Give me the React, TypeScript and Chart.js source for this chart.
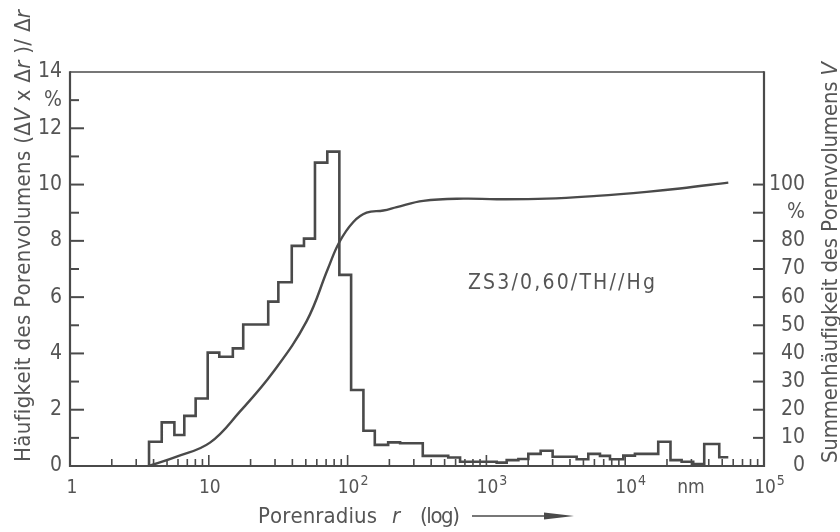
import React, { useEffect, useRef } from 'react';
import { Chart, registerables } from 'chart.js';

Chart.register(...registerables);

// ---------- data ----------
// histogram: class lower edges (nm) and frequency (%) held from each edge to the next
const HIST_START = 3.71;
const HIST_EDGES = [3.71, 4.58, 5.65, 6.66, 8.04, 9.82, 11.9, 14.9, 17.7, 26.8, 31.7, 39.6, 48.5, 58.2, 71.4, 87.2, 106, 130, 157, 196, 239, 348, 531, 646, 1186, 1400, 1700, 2005, 2460, 3000, 4470, 5420, 6580, 7770, 9690, 11750, 17300, 21200, 25500, 30900, 37100, 47600, 55300];
const HIST_VALUES = [0.86, 1.55, 1.10, 1.78, 2.40, 4.03, 3.88, 4.18, 5.03, 5.84, 6.53, 7.82, 8.08, 10.78, 11.17, 6.79, 2.70, 1.25, 0.75, 0.84, 0.81, 0.36, 0.30, 0.15, 0.12, 0.21, 0.25, 0.43, 0.54, 0.33, 0.24, 0.43, 0.36, 0.24, 0.37, 0.43, 0.86, 0.21, 0.15, 0.07, 0.78, 0.31, 0.31];

// cumulative curve (right axis, %)
const CUM_R = [3.7, 5.87, 10.2, 16.8, 29.1, 50.7, 72, 87.1, 110, 137, 181, 226, 351, 682, 1187, 2720, 6240, 14300, 24800, 55300];
const CUM_V = [0, 3.3, 8.3, 19.4, 33.4, 51.5, 70, 79.5, 86.7, 90, 90.8, 92, 94.2, 95, 94.8, 95, 96, 97.4, 98.6, 100.7];

// axes
const X_MIN = 1;
const X_MAX = 100000;
const X_LABEL_VALUES = [1, 10, 100, 1000, 10000, 29300, 100000];
const X_LABEL_BASE = ['1', '10', '10', '10', '10', 'nm', '10'];
const X_LABEL_EXP = ['', '', '2', '3', '4', '', '5'];
const X_MINOR_MULT = [1, 2, 3, 4, 5, 6, 7, 8, 9];
const X_DECADES = [1, 10, 100, 1000, 10000];

const Y_LEFT_TICKS = [0, 1, 2, 3, 4, 5, 6, 7, 8, 9, 10, 11, 12, 13, 14];
const Y_LEFT_LABELS = ['0', '', '2', '', '4', '', '6', '', '8', '', '10', '', '12', '%', '14'];
const Y_RIGHT_TICKS = [0, 10, 20, 30, 40, 50, 60, 70, 80, 90, 100];
const Y_RIGHT_LABELS = ['0', '10', '20', '30', '40', '50', '60', '70', '80', '%', '100'];

const ANNOTATION = 'ZS3/0,60/TH//Hg';

// ---------- styles ----------
const FAMILY = "'Liberation Sans Narrow', 'DejaVu Sans Condensed', 'Liberation Sans', sans-serif";
const INK = '#4a4a4a';
const TEXT = '#555555';

type Part = [string, boolean];

function drawFit(
  ctx: CanvasRenderingContext2D,
  parts: Part[],
  x: number,
  y: number,
  target: number,
  size: number,
  rotate: boolean
) {
  ctx.save();
  ctx.translate(x, y);
  if (rotate) ctx.rotate(-Math.PI / 2);
  ctx.textAlign = 'left';
  ctx.textBaseline = 'alphabetic';
  ctx.fillStyle = TEXT;
  const chars: { c: string; font: string; w: number }[] = [];
  for (const [t, it] of parts) {
    for (const c of Array.from(t)) {
      chars.push({ c, font: `${it ? 'italic ' : ''}${size}px ${FAMILY}`, w: 0 });
    }
  }
  let natural = 0;
  for (const ch of chars) {
    ctx.font = ch.font;
    ch.w = ctx.measureText(ch.c).width;
    natural += ch.w;
  }
  const sp = chars.length > 1 ? (target - natural) / (chars.length - 1) : 0;
  let cx = 0;
  for (const ch of chars) {
    ctx.font = ch.font;
    ctx.fillText(ch.c, cx, 0);
    cx += ch.w + sp;
  }
  ctx.restore();
}

function line(ctx: CanvasRenderingContext2D, x1: number, y1: number, x2: number, y2: number) {
  ctx.beginPath();
  ctx.moveTo(x1, y1);
  ctx.lineTo(x2, y2);
  ctx.stroke();
}

const decorPlugin = {
  id: 'decor',
  beforeDatasetsDraw(chart: any) {
    const ctx: CanvasRenderingContext2D = chart.ctx;
    const { left, right, top, bottom } = chart.chartArea;
    const xs = chart.scales.x;
    const ys = chart.scales.y;
    const y2 = chart.scales.y2;
    ctx.save();
    ctx.strokeStyle = INK;
    ctx.lineCap = 'butt';
    // frame
    ctx.lineWidth = 1.5;
    line(ctx, left, top, right, top);
    ctx.lineWidth = 2.2;
    line(ctx, left, top - 0.7, left, bottom + 1);
    line(ctx, right, top - 0.7, right, bottom + 1);
    line(ctx, left - 1, bottom, right + 1, bottom);
    // left ticks
    ctx.lineWidth = 2;
    Y_LEFT_TICKS.forEach((v) => {
      if (v >= 14) return;
      const py = ys.getPixelForValue(v);
      const len = v % 2 === 0 ? 14 : 9;
      line(ctx, left, py, left + len, py);
    });
    // right ticks
    Y_RIGHT_TICKS.forEach((v) => {
      const py = y2.getPixelForValue(v);
      line(ctx, right - 11, py, right, py);
    });
    // x ticks
    ctx.lineWidth = 1.6;
    X_DECADES.forEach((d) => {
      X_MINOR_MULT.forEach((k) => {
        const v = d * k;
        if (v <= X_MIN) return;
        const px = xs.getPixelForValue(v);
        const len = k === 1 ? 11 : 7;
        line(ctx, px, bottom, px, bottom - len);
      });
    });
    ctx.restore();
  },
  afterDraw(chart: any) {
    const ctx: CanvasRenderingContext2D = chart.ctx;
    const xs = chart.scales.x;
    ctx.save();
    ctx.fillStyle = TEXT;
    // x tick labels
    X_LABEL_VALUES.forEach((v, i) => {
      const px = xs.getPixelForValue(v);
      ctx.font = `19px ${FAMILY}`;
      ctx.textBaseline = 'alphabetic';
      ctx.textAlign = 'center';
      const base = X_LABEL_BASE[i];
      const w = ctx.measureText(base).width;
      ctx.fillText(base, px + (base === '1' ? 2 : 1), 493);
      if (X_LABEL_EXP[i]) {
        ctx.font = `14px ${FAMILY}`;
        ctx.textAlign = 'left';
        ctx.fillText(X_LABEL_EXP[i], px + 1 + w / 2 + 1, 485);
      }
    });
    ctx.restore();

    // axis titles
    drawFit(
      ctx,
      [
        ['Häufigkeit des Porenvolumens (Δ', false],
        ['V', true],
        [' x Δ', false],
        ['r', true],
        [' )/ Δ', false],
        ['r', true],
      ],
      30,
      462,
      452,
      22,
      true
    );
    drawFit(
      ctx,
      [
        ['Summenhäufigkeit des Porenvolumens ', false],
        ['V', true],
      ],
      837,
      463,
      401,
      22,
      true
    );
    drawFit(ctx, [['Porenradius', false]], 258, 523, 119, 22, false);
    drawFit(ctx, [['r', true]], 392, 523, 8, 22, false);
    drawFit(ctx, [['(log)', false]], 420, 523, 40, 22, false);
    // arrow
    ctx.save();
    ctx.strokeStyle = INK;
    ctx.fillStyle = INK;
    ctx.lineWidth = 1.6;
    line(ctx, 472, 516, 550, 516);
    ctx.beginPath();
    ctx.moveTo(544, 512.5);
    ctx.lineTo(574, 516);
    ctx.lineTo(544, 519.5);
    ctx.closePath();
    ctx.fill();
    ctx.restore();
    // annotation
    drawFit(ctx, [[ANNOTATION, false]], 468, 289, 187, 21, false);
  },
};

export default function App() {
  const ref = useRef<HTMLCanvasElement | null>(null);

  useEffect(() => {
    if (!ref.current) return;
    const histPoints = [{ x: HIST_START, y: 0 }].concat(
      HIST_EDGES.map((e, i) => ({ x: e, y: HIST_VALUES[i] }))
    );
    const cumPoints = CUM_R.map((r, i) => ({ x: r, y: CUM_V[i] }));

    const chart = new Chart(ref.current, {
      type: 'line',
      data: {
        datasets: [
          {
            label: 'Häufigkeit',
            data: histPoints,
            xAxisID: 'x',
            yAxisID: 'y',
            stepped: 'before',
            borderColor: INK,
            borderWidth: 2.6,
            pointRadius: 0,
            fill: false,
          } as any,
          {
            label: 'Summenhäufigkeit',
            data: cumPoints,
            xAxisID: 'x',
            yAxisID: 'y2',
            borderColor: INK,
            borderWidth: 2.4,
            pointRadius: 0,
            tension: 0.4,
            fill: false,
          } as any,
        ],
      },
      options: {
        responsive: false,
        animation: false,
        devicePixelRatio: 1,
        layout: { padding: { top: 72, right: 35, left: 0, bottom: 0 } },
        plugins: { legend: { display: false }, tooltip: { enabled: false } },
        scales: {
          x: {
            type: 'logarithmic',
            position: 'bottom',
            min: X_MIN,
            max: X_MAX,
            grid: { display: false, drawTicks: false },
            border: { display: false },
            ticks: { display: false },
            afterFit: (s: any) => {
              s.height = 66;
            },
          },
          y: {
            type: 'linear',
            position: 'left',
            min: 0,
            max: 14,
            grid: { display: false, drawTicks: false },
            border: { display: false },
            afterBuildTicks: (s: any) => {
              s.ticks = Y_LEFT_TICKS.map((v) => ({ value: v }));
            },
            ticks: {
              autoSkip: false,
              padding: 8,
              color: TEXT,
              font: { family: FAMILY, size: 21 },
              callback: (v: any) => {
                const i = Y_LEFT_TICKS.indexOf(Number(v));
                return i >= 0 ? Y_LEFT_LABELS[i] : '';
              },
            },
            afterFit: (s: any) => {
              s.width = 70;
            },
          },
          y2: {
            type: 'linear',
            position: 'right',
            min: 0,
            max: 140,
            grid: { display: false, drawTicks: false },
            border: { display: false },
            afterBuildTicks: (s: any) => {
              s.ticks = Y_RIGHT_TICKS.map((v) => ({ value: v }));
            },
            ticks: {
              autoSkip: false,
              crossAlign: 'far',
              color: TEXT,
              font: { family: FAMILY, size: 21 },
              callback: (v: any) => {
                const i = Y_RIGHT_TICKS.indexOf(Number(v));
                return i >= 0 ? Y_RIGHT_LABELS[i] : '';
              },
            },
            afterFit: (s: any) => {
              s.width = 41;
            },
          },
        },
      } as any,
      plugins: [decorPlugin],
    });
    return () => chart.destroy();
  }, []);

  return (
    <div style={{ position: 'fixed', left: 0, top: 0, width: 840, height: 532, background: '#ffffff' }}>
      <canvas ref={ref} width={840} height={532} style={{ display: 'block', width: 840, height: 532 }} />
    </div>
  );
}
